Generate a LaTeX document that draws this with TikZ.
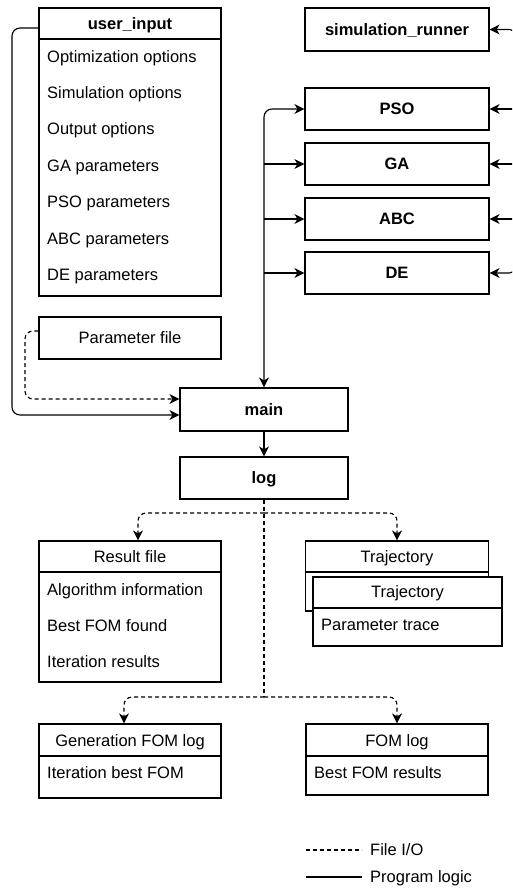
\documentclass[tikz,border=0pt]{standalone}
\usepackage{fontspec}
\setmainfont{Liberation Sans}
\usetikzlibrary{arrows.meta,calc}
\begin{document}
\begin{tikzpicture}[x=1pt,y=-1pt,
  font=\fontsize{16.5}{19}\selectfont,
  ln/.style={line width=1.15pt},
  box/.style={draw, line width=1.15pt, rectangle, inner sep=0pt, fill=white},
  txt/.style={inner sep=0pt, text height=11.9pt, text depth=0pt},
  lbl/.style={txt, anchor=west},
  bold/.style={txt, font=\fontsize{16.5}{19}\selectfont\bfseries},
  tip/.tip={Stealth[length=10pt,width=10pt,inset=3pt]},
  arr/.style={ln, -tip},
  darr/.style={ln, tip-tip},
  dsh/.style={dash pattern=on 4pt off 3pt}]
\useasboundingbox (0,0) rectangle (512,890);
\clip (0,0) rectangle (512,890);

% user_input
\node[box, minimum width=182pt, minimum height=288pt] (ui) at (130,152) {};
\draw[ln] (ui.west |- 0,39) -- (ui.east |- 0,39);
\node[bold] (uit) at (130,24) {user\_input};
\node[lbl] (ui1) at (47,57) {Optimization options};
\node[lbl] (ui2) at (47,93) {Simulation options};
\node[lbl] (ui3) at (47,129) {Output options};
\node[lbl] (ui4) at (47,166) {GA parameters};
\node[lbl] (ui5) at (47,202) {PSO parameters};
\node[lbl] (ui6) at (47,239) {ABC parameters};
\node[lbl] (ui7) at (47,275) {DE parameters};

% parameter file
\node[box, minimum width=182pt, minimum height=42pt] (pf) at (130,338) {};
\node[txt] (pft) at (130,338) {Parameter file};

% right column
\node[box, minimum width=184pt, minimum height=43pt, bold] (sr) at (397,29.5) {simulation\_runner};
\node[box, minimum width=184pt, minimum height=42pt, bold] (pso) at (397,109) {PSO};
\node[box, minimum width=184pt, minimum height=42pt, bold] (ga) at (397,164) {GA};
\node[box, minimum width=184pt, minimum height=42pt, bold] (abc) at (397,219) {ABC};
\node[box, minimum width=184pt, minimum height=42pt, bold] (de) at (397,273) {DE};

% main, log
\node[box, minimum width=168pt, minimum height=43pt, bold] (main) at (264,409.5) {main};
\node[box, minimum width=168pt, minimum height=42pt, bold] (log) at (264,478) {log};

% result file
\node[box, minimum width=182pt, minimum height=141pt] (rf) at (130,611.5) {};
\draw[ln] (rf.west |- 0,572) -- (rf.east |- 0,572);
\node[txt] (rft) at (130,556.5) {Result file};
\node[lbl] (rf1) at (47,590) {Algorithm information};
\node[lbl] (rf2) at (47,626) {Best FOM found};
\node[lbl] (rf3) at (47,662) {Iteration results};

% trajectory (stacked)
\node[box, minimum width=183pt, minimum height=70pt] (tb) at (397,576) {};
\draw[ln] (tb.west |- 0,572) -- (tb.east |- 0,572);
\node[txt] (tbt) at (397,556.5) {Trajectory};
\node[box, minimum width=189pt, minimum height=69pt] (tf) at (407.5,611.5) {};
\draw[ln] (tf.west |- 0,608) -- (tf.east |- 0,608);
\node[txt] (tft) at (407.5,592) {Trajectory};
\node[lbl] (tf1) at (321,625) {Parameter trace};

% generation FOM log
\node[box, minimum width=182pt, minimum height=74pt] (gf) at (130,761) {};
\draw[ln] (gf.west |- 0,756) -- (gf.east |- 0,756);
\node[txt] (gft) at (130,741) {Generation FOM log};
\node[lbl] (gf1) at (47,773) {Iteration best FOM};

% FOM log
\node[box, minimum width=182pt, minimum height=71pt] (fl) at (397,759.5) {};
\draw[ln] (fl.west |- 0,756) -- (fl.east |- 0,756);
\node[txt] (flt) at (397,741) {FOM log};
\node[lbl] (fl1) at (314,773) {Best FOM results};

% connectors: inputs to main
\draw[arr, rounded corners=8pt] (ui.west |- 0,28) -- (12,28) -- (12,415) -- (main.west |- 0,415);
\draw[arr, dsh, rounded corners=8pt] (pf.west |- 0,331) -- (25,331) -- (25,399) -- (main.west |- 0,399);

% main to algorithms
\draw[darr, rounded corners=8pt] (main.north) -- (main.north |- pso.west) -- (pso.west);
\draw[arr] (main.north |- ga.west) -- (ga.west);
\draw[arr] (main.north |- abc.west) -- (abc.west);
\draw[arr] (main.north |- de.west) -- (de.west);

% right side feed
\draw[darr, rounded corners=6pt] (sr.east) -- (sr.east -| 515,0) -- (de.east -| 515,0) -- (de.east);
\draw[arr] (pso.east -| 515,0) -- (pso.east);
\draw[arr] (ga.east -| 515,0) -- (ga.east);
\draw[arr] (abc.east -| 515,0) -- (abc.east);

% main to log
\draw[arr] (main.south) -- (log.north);

% log outputs
\coordinate (j1) at (264,513);
\coordinate (j2) at (264,697);
\draw[ln, dsh] (log.south) -- (j2);
\draw[arr, dsh, rounded corners=8pt] (j1) -- (138,513) -- (138,0 |- rf.north);
\draw[arr, dsh, rounded corners=8pt] (j1) -- (tb.north |- j1) -- (tb.north);
\draw[arr, dsh, rounded corners=8pt] (j2) -- (124,697) -- (124,0 |- gf.north);
\draw[arr, dsh, rounded corners=8pt] (j2) -- (fl.north |- j2) -- (fl.north);

% legend
\coordinate (la) at (306,850);
\coordinate (lb) at (362,850);
\coordinate (lc) at (306,877);
\coordinate (ld) at (362,877);
\draw[ln, dsh] (la) -- (lb);
\draw[ln] (lc) -- (ld);
\node[lbl] (lt1) at (370,850) {File I/O};
\node[lbl] (lt2) at (370,877) {Program logic};
\end{tikzpicture}
\end{document}
